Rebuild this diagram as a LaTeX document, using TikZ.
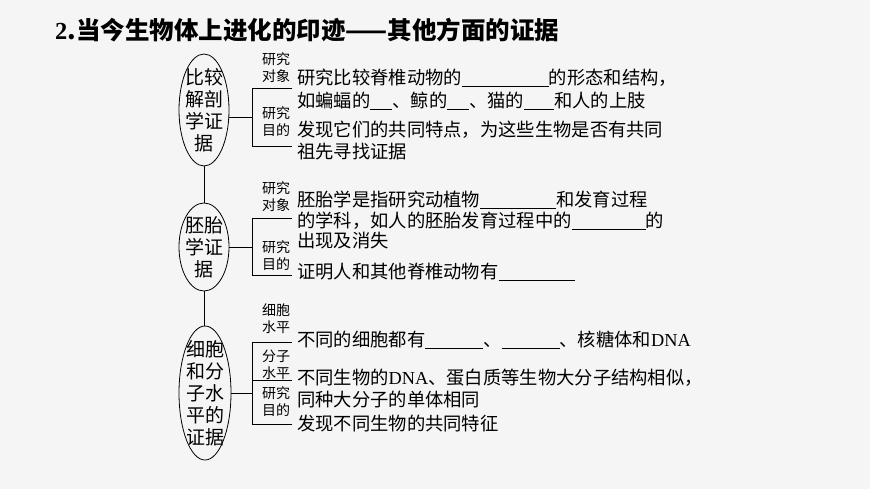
\documentclass[tikz,border=0pt]{standalone}
\usepackage{fontspec}
\setmainfont{Liberation Serif}
\newfontfamily\cjk{Noto Sans CJK SC}
\newcommand{\blk}[1]{\rule[-2pt]{#1pt}{0.6pt}}
\begin{document}
\begin{tikzpicture}[x=1pt,y=-1pt,
 txt/.style={anchor=west,inner sep=0pt,font=\cjk\fontsize{18.3}{22}\selectfont,align=left},
 lab/.style={anchor=center,inner sep=0pt,font=\cjk\fontsize{14}{17}\selectfont,align=center},
 etx/.style={inner sep=0pt,font=\cjk\fontsize{19}{22}\selectfont,align=center},
 ln/.style={line width=0.8pt}]
\fill[gray!8] (0,0) rectangle (870,489);
\useasboundingbox (0,0) rectangle (870,489);
\node[anchor=west,inner sep=0pt,font=\cjk\bfseries\fontsize{24.5}{28}\selectfont] (t) at (55,30) {{\rmfamily\bfseries 2}.当今生物体上进化的印迹——其他方面的证据};
% ellipses
\draw[ln] (204,110) ellipse (25 and 56);
\node[etx] (e1) at (204,110) {比较\\解剖\\学证\\据};
\draw[ln] (204,247) ellipse (25 and 44);
\node[etx] (e2) at (204,247) {胚胎\\学证\\据};
\draw[ln] (205,393) ellipse (26 and 67);
\node[etx] (e3) at (205,393) {细胞\\和分\\子水\\平的\\证据};
\draw[ln] (204,166) -- (204,203);
\draw[ln] (204,291) -- (204,326);
% bracket 1
\draw[ln] (229,117) -- (252,117);
\draw[ln] (292,88) -- (252,88) -- (252,146) -- (292,146);
\node[lab] (l1) at (276,68) {研究\\对象};
\node[lab] (l2) at (276,122) {研究\\目的};
\node[txt] (r1) at (297,78) {研究比较脊椎动物的\blk{87}的形态和结构，};
\node[txt] (r2) at (297,101) {如蝙蝠的\blk{22}、鲸的\blk{22}、猫的\blk{30}和人的上肢};
\node[txt] (r3) at (297,130) {发现它们的共同特点，为这些生物是否有共同};
\node[txt] (r4) at (297,152) {祖先寻找证据};
% bracket 2
\draw[ln] (229,247) -- (252,247);
\draw[ln] (292,218) -- (252,218) -- (252,275) -- (292,275);
\node[lab] (l3) at (276,197) {研究\\对象};
\node[lab] (l4) at (276,256) {研究\\目的};
\node[txt] (r5) at (297,200) {胚胎学是指研究动植物\blk{76}和发育过程};
\node[txt] (r6) at (297,221) {的学科，如人的胚胎发育过程中的\blk{74}的};
\node[txt] (r7) at (297,241) {出现及消失};
\node[txt] (r8) at (297,272) {证明人和其他脊椎动物有\blk{76}};
% bracket 3
\draw[ln] (231,393) -- (252,393);
\draw[ln] (292,342) -- (252,342) -- (252,424) -- (292,424);
\draw[ln] (252,380) -- (292,380);
\node[lab] (l5) at (276,319) {细胞\\水平};
\node[lab] (l6) at (276,365) {分子\\水平};
\node[lab] (l7) at (276,402) {研究\\目的};
\node[txt] (r9) at (297,340) {不同的细胞都有\blk{58}、\blk{58}、核糖体和{\rmfamily DNA}};
\node[txt] (r10) at (297,378) {不同生物的{\rmfamily DNA}、蛋白质等生物大分子结构相似，};
\node[txt] (r11) at (297,400) {同种大分子的单体相同};
\node[txt] (r12) at (297,424) {发现不同生物的共同特征};
\end{tikzpicture}
\end{document}
